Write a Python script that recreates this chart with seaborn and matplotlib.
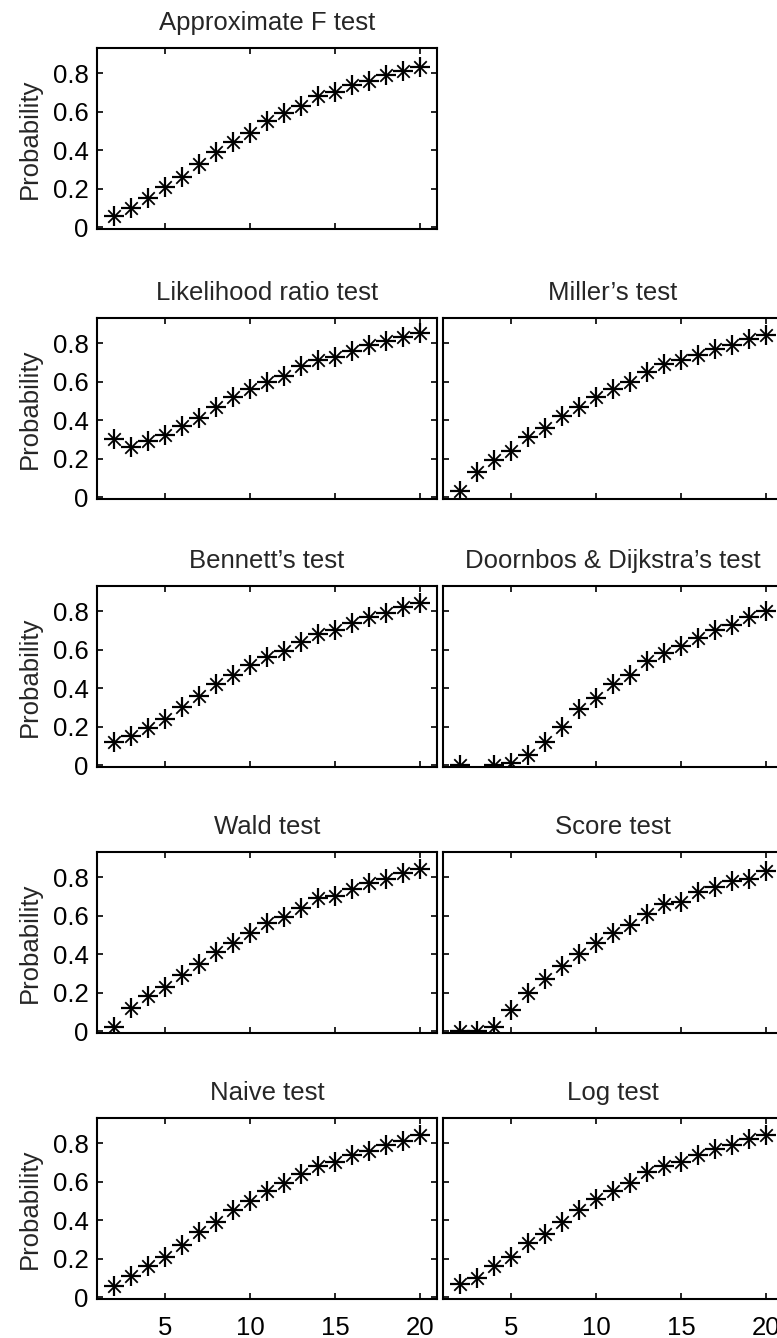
import numpy as np
import pandas as pd
import matplotlib
matplotlib.use("Agg")
import matplotlib.pyplot as plt
import seaborn as sns

# ---------------- data ----------------
x_values = list(range(2, 21))

approx_f = [0.06, 0.10, 0.15, 0.21, 0.26, 0.33, 0.39, 0.44, 0.49, 0.55,
            0.59, 0.63, 0.68, 0.70, 0.74, 0.76, 0.79, 0.81, 0.83]
likelihood_ratio = [0.30, 0.26, 0.29, 0.32, 0.37, 0.41, 0.47, 0.52, 0.56, 0.60,
                    0.63, 0.68, 0.71, 0.73, 0.76, 0.79, 0.81, 0.83, 0.85]
millers = [0.03, 0.13, 0.19, 0.24, 0.31, 0.36, 0.42, 0.47, 0.52, 0.56,
           0.60, 0.65, 0.69, 0.71, 0.74, 0.77, 0.79, 0.82, 0.84]
bennetts = [0.12, 0.15, 0.19, 0.24, 0.30, 0.36, 0.42, 0.47, 0.52, 0.56,
            0.59, 0.64, 0.68, 0.70, 0.74, 0.77, 0.79, 0.82, 0.84]
doornbos = [0.0, np.nan, 0.0, 0.01, 0.05, 0.12, 0.20, 0.29, 0.35, 0.42,
            0.47, 0.54, 0.58, 0.62, 0.66, 0.70, 0.73, 0.77, 0.80]
wald = [0.02, 0.12, 0.18, 0.23, 0.29, 0.35, 0.41, 0.46, 0.51, 0.56,
        0.59, 0.64, 0.69, 0.70, 0.74, 0.77, 0.79, 0.82, 0.84]
score = [0.0, 0.0, 0.02, 0.11, 0.20, 0.27, 0.34, 0.40, 0.46, 0.51,
         0.55, 0.61, 0.66, 0.67, 0.72, 0.75, 0.78, 0.79, 0.83]
naive = [0.06, 0.11, 0.16, 0.21, 0.27, 0.34, 0.39, 0.45, 0.50, 0.55,
         0.59, 0.64, 0.68, 0.70, 0.74, 0.76, 0.79, 0.81, 0.84]
log_test = [0.07, 0.10, 0.16, 0.21, 0.28, 0.33, 0.39, 0.45, 0.51, 0.55,
            0.59, 0.65, 0.68, 0.70, 0.74, 0.77, 0.79, 0.82, 0.84]

titles = ["Approximate F test", None,
          "Likelihood ratio test", "Miller\u2019s test",
          "Bennett\u2019s test", "Doornbos & Dijkstra\u2019s test",
          "Wald test", "Score test",
          "Naive test", "Log test"]
series = [approx_f, None,
          likelihood_ratio, millers,
          bennetts, doornbos,
          wald, score,
          naive, log_test]

x_ticks = [5, 10, 15, 20]
y_ticks = [0, 0.2, 0.4, 0.6, 0.8]
y_tick_labels = ["0", "0.2", "0.4", "0.6", "0.8"]
y_label = "Probability"

# ---------------- style ----------------
sns.set_theme(style="white")
plt.rcParams["font.family"] = ["Liberation Sans", "DejaVu Sans"]
FS = 18.5
plt.rcParams["font.size"] = FS

W, H = 777, 1338
fig = plt.figure(figsize=(W / 100, H / 100), dpi=100)

col_left_px = [97, 443]
ax_w_px = 340
row_bottom_px = [229, 499, 767, 1033, 1299]
ax_h_px = 181

for i, (title, vals) in enumerate(zip(titles, series)):
    if vals is None:
        continue
    r, c = divmod(i, 2)
    left = col_left_px[c] / W
    bottom = 1 - row_bottom_px[r] / H
    ax = fig.add_axes([left, bottom, ax_w_px / W, ax_h_px / H])
    df = pd.DataFrame({"x": x_values, "y": vals}).dropna()
    sns.scatterplot(data=df, x="x", y="y", marker="+", s=15 ** 2,
                    color="black", linewidth=1.6, ax=ax, zorder=3)
    sns.scatterplot(data=df, x="x", y="y", marker="x", s=9 ** 2,
                    color="black", linewidth=1.3, ax=ax, zorder=3)
    ax.set_xlim(1, 21)
    ax.set_ylim(-0.01, 0.93)
    ax.set_xticks(x_ticks)
    ax.set_yticks(y_ticks)
    ax.tick_params(direction="in", length=4, width=1.2, top=True, right=True,
                   bottom=True, left=True, colors="black", labelsize=FS,
                   pad=6)
    ax.tick_params(axis="x", pad=12)
    if c == 0:
        ax.set_yticklabels(y_tick_labels)
        ax.set_ylabel(y_label, fontsize=FS, labelpad=8)
    else:
        ax.set_yticklabels([])
        ax.set_ylabel("")
    if r == 4:
        ax.set_xticklabels([str(t) for t in x_ticks])
    else:
        ax.set_xticklabels([])
    ax.set_xlabel("")
    ax.set_title(title, fontsize=FS, pad=13)
    for sp in ax.spines.values():
        sp.set_visible(True)
        sp.set_color("black")
        sp.set_linewidth(1.5)

fig.savefig("out.png", dpi=100, facecolor="white")
